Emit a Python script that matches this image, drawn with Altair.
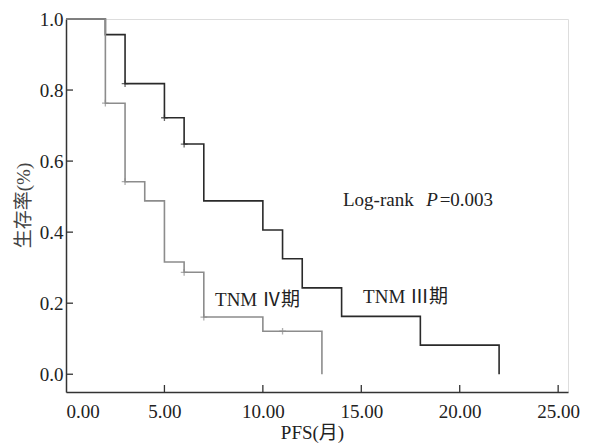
import altair as alt
import pandas as pd

# Kaplan-Meier step data
t3 = [0, 2, 3, 5, 6, 7, 10, 11, 12, 14, 18, 22]
s3 = [1.0, 0.956, 0.818, 0.722, 0.648, 0.488, 0.406, 0.325, 0.243, 0.163, 0.082, 0.0]
t4 = [0, 2, 3, 4, 5, 6, 7, 10, 13]
s4 = [1.0, 0.763, 0.542, 0.488, 0.316, 0.287, 0.161, 0.121, 0.0]

c3_t = [3, 5, 6]
c3_s = [0.818, 0.722, 0.648]
c4_t = [2, 3, 6, 7, 11]
c4_s = [0.763, 0.542, 0.287, 0.161, 0.121]

x_ticks = [0, 5, 10, 15, 20, 25]
y_ticks = [0.0, 0.2, 0.4, 0.6, 0.8, 1.0]

groups = ["III", "IV"]
colors = ["#2a2a2a", "#8c8c8c"]

curves = pd.DataFrame(
    {"t": t3 + t4, "s": s3 + s4, "g": ["III"] * len(t3) + ["IV"] * len(t4)}
)
cens = pd.DataFrame(
    {"t": c3_t + c4_t, "s": c3_s + c4_s, "g": ["III"] * len(c3_t) + ["IV"] * len(c4_t)}
)

FONT = "Liberation Serif"
CJK = "Liberation Serif, Noto Sans CJK SC"
xs = alt.Scale(domain=[0, 25.5], nice=False, zero=False)
ys = alt.Scale(domain=[-0.05, 1.0], nice=False, zero=False)
cs = alt.Scale(domain=groups, range=colors)

xaxis = alt.Axis(
    values=x_ticks, format=".2f", grid=False, ticks=False, tickSize=0,
    labelFont=FONT, labelFontSize=19, labelColor="#222", labelPadding=10,
    domainColor="#333", domainWidth=1.5,
    title="PFS(月)", titleFont=CJK, titleFontSize=19, titleFontWeight="normal",
    titleColor="#222", titleX=246, titleY=40, titleBaseline="middle", titleAlign="center",
)
yaxis = alt.Axis(
    values=y_ticks, format=".1f", grid=False, ticks=False, tickSize=0,
    labelFont=FONT, labelFontSize=19, labelColor="#222", labelPadding=3,
    domainColor="#333", domainWidth=1.5,
    title="生存率(%)", titleFont=CJK, titleFontSize=19, titleFontWeight="normal",
    titleColor="#444", titleX=-43, titleY=186, titleAngle=270,
    titleBaseline="middle", titleAlign="center",
)

lines = alt.Chart(curves).mark_line(interpolate="step-after", strokeWidth=1.6).encode(
    x=alt.X("t:Q", scale=xs, axis=xaxis),
    y=alt.Y("s:Q", scale=ys, axis=yaxis),
    color=alt.Color("g:N", scale=cs, legend=None),
    detail="g:N",
)

plus = alt.Chart(cens).mark_point(
    shape="M-1,0L1,0M0,-1L0,1", filled=False, size=45, strokeWidth=1.3
).encode(
    x=alt.X("t:Q", scale=xs),
    y=alt.Y("s:Q", scale=ys),
    color=alt.Color("g:N", scale=cs, legend=None),
)

xt = alt.Chart(pd.DataFrame({"v": x_ticks[1:]})).mark_rule(color="#333", strokeWidth=1.3).encode(
    x=alt.X("v:Q", scale=xs), y=alt.value(373), y2=alt.value(366)
)
yt = alt.Chart(pd.DataFrame({"v": y_ticks[:-1]})).mark_rule(color="#333", strokeWidth=1.3).encode(
    y=alt.Y("v:Q", scale=ys), x=alt.value(0), x2=alt.value(7)
)

ann_text = ["Log-rank", "P", "=0.003", "TNM  Ⅳ期", "TNM  Ⅲ期"]
ann_x = [14.07, 18.3, 18.98, 7.57, 15.09]
ann_y = [0.49, 0.49, 0.49, 0.209, 0.217]
ann_style = ["normal", "italic", "normal", "normal", "normal"]
ann = pd.DataFrame({"txt": ann_text, "x": ann_x, "y": ann_y, "st": ann_style})

def text_layer(df, style):
    return alt.Chart(df).mark_text(
        align="left", baseline="middle", font=CJK,
        fontSize=19, color="#222", fontStyle=style,
    ).encode(x=alt.X("x:Q", scale=xs), y=alt.Y("y:Q", scale=ys), text="txt:N")

t_norm = text_layer(ann[ann.st == "normal"], "normal")
t_ital = text_layer(ann[ann.st == "italic"], "italic")

chart = alt.layer(lines, plus, xt, yt, t_norm, t_ital).properties(
    width=502, height=373,
    autosize=alt.AutoSizeParams(type="none"),
    padding={"left": 66, "top": 19, "right": 23, "bottom": 53},
).configure_view(stroke=None).configure(background="white")

chart.save("out.html", embed_options={"renderer": "svg", "actions": False})
